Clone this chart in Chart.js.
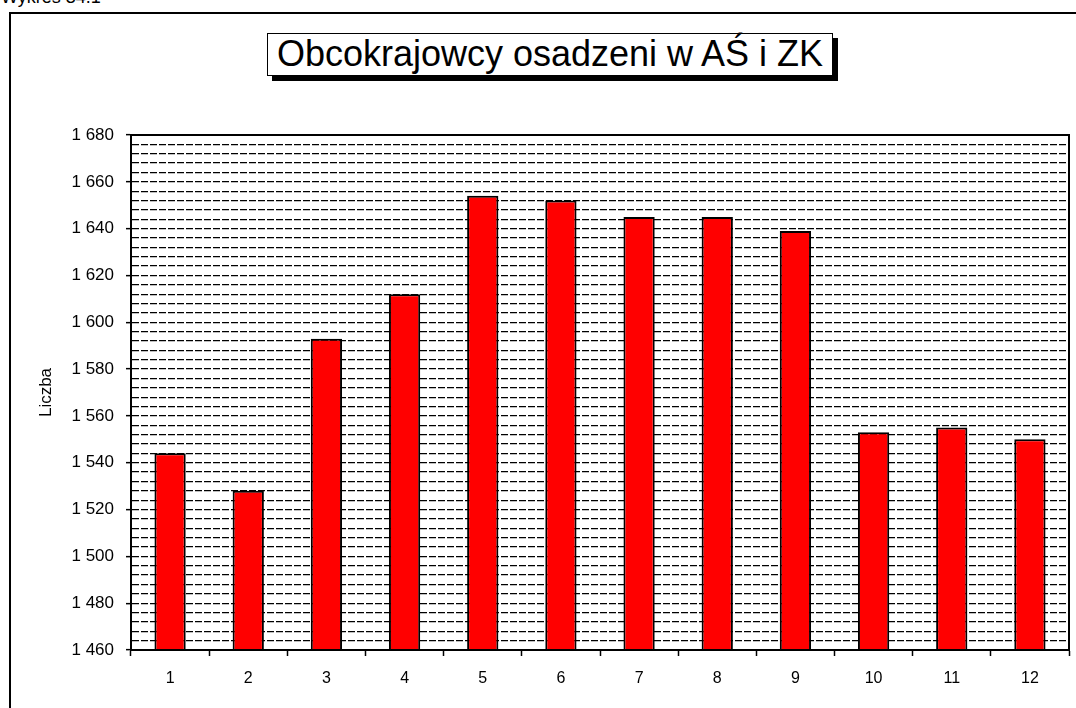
<!DOCTYPE html>
<html>
<head>
<meta charset="utf-8">
<script src="https://cdn.jsdelivr.net/npm/chart.js@4/dist/chart.umd.min.js"></script>
<style>
	body { margin: 0; background: #fff; font-family: "Liberation Sans", Arial, sans-serif; }
	#page { position: relative; width: 1076px; height: 708px; overflow: hidden; }
	#caption { position: absolute; left: 1px; top: -13px; font-size: 18px; color: #000; }
	#frame { position: absolute; left: 9px; top: 12px; width: 1080px; height: 720px; border: 2px solid #000; box-sizing: border-box; }
	#title { position: absolute; left: 267px; top: 33px; width: 566px; height: 43px; border: 1.5px solid #000; box-sizing: border-box;
		box-shadow: 5px 5px 0 #000; background: #fff; font-size: 36px; line-height: 40px; text-align: center; color: #000; white-space: nowrap; }
	#chart-wrap { position: absolute; left: 0; top: 0; width: 1076px; height: 708px; }
</style>
</head>
<body>
<div id="page">
	<div id="caption">Wykres 34.1</div>
	<div id="frame"></div>
	<div id="title">Obcokrajowcy osadzeni w AŚ i ZK</div>
	<div id="chart-wrap"><canvas id="chart-canvas" width="1076" height="708"></canvas></div>
</div>
<script>
// months 1-12
const categories = ["1", "2", "3", "4", "5", "6", "7", "8", "9", "10", "11", "12"];
const values = [1544, 1528, 1593, 1612, 1654, 1652, 1645, 1645, 1639, 1553, 1555, 1550];
const yMin = 1460;
const yMax = 1680;
const yLabelStep = 20;
const yGridStep = 4;
const yTitle = "Liczba";

function formatNum(v){
	let th = Math.floor(v / 1000);
	let rest = String(v % 1000).padStart(3, "0");
	return th > 0 ? th + " " + rest : String(v);
}

// border round the plot area (top and right side)
const plotBorder = {
	id: "plotBorder",
	afterDraw(chart){
		let a = chart.chartArea;
		let c = chart.ctx;
		c.save();
		c.strokeStyle = "#000";
		c.lineWidth = 2;
		c.strokeRect(a.left, a.top, a.right - a.left, a.bottom - a.top);
		c.restore();
	}
};

Chart.defaults.font.family = "'Liberation Sans', Arial, sans-serif";
Chart.defaults.color = "#000";

let graph = new Chart("chart-canvas", {
	type: "bar",
	data: {
		labels: categories,
		datasets: [{
			label: yTitle,
			data: values,
			backgroundColor: "#ff0000",
			borderColor: "#000",
			borderWidth: 2,
			borderSkipped: "start",
			categoryPercentage: 1,
			barPercentage: 0.4
		}]
	},
	options: {
		responsive: false,
		animation: false,
		layout: { padding: { left: 0, top: 135, right: 7, bottom: 16 } },
		plugins: {
			legend: { display: false },
			tooltip: { enabled: false }
		},
		scales: {
			x: {
				grid: {
					offset: true,
					drawOnChartArea: false,
					color: "#000",
					tickColor: "#000",
					tickLength: 6,
					tickWidth: 1.5
				},
				border: { color: "#000", width: 2 },
				ticks: { font: { size: 16 }, padding: 13, maxRotation: 0 },
				afterFit(scale){ scale.height = 42; }
			},
			y: {
				min: yMin,
				max: yMax,
				title: {
					display: true,
					text: yTitle,
					font: { size: 17 },
					padding: { top: 36, bottom: 0 }
				},
				grid: {
					color: "#000",
					lineWidth: 1.3,
					tickLength: 5,
					tickWidth: 1.5,
					tickColor: ctx => (ctx.tick && ctx.tick.value % yLabelStep === 0) ? "#000" : "rgba(0,0,0,0)"
				},
				border: { color: "#000", width: 2, dash: [7, 2] },
				ticks: {
					stepSize: yGridStep,
					autoSkip: false,
					padding: 12,
					font: { size: 17 },
					callback: v => (v % yLabelStep === 0) ? formatNum(v) : ""
				},
				afterFit(scale){ scale.width = 131; }
			}
		}
	},
	plugins: [plotBorder]
});
</script>
</body>
</html>
